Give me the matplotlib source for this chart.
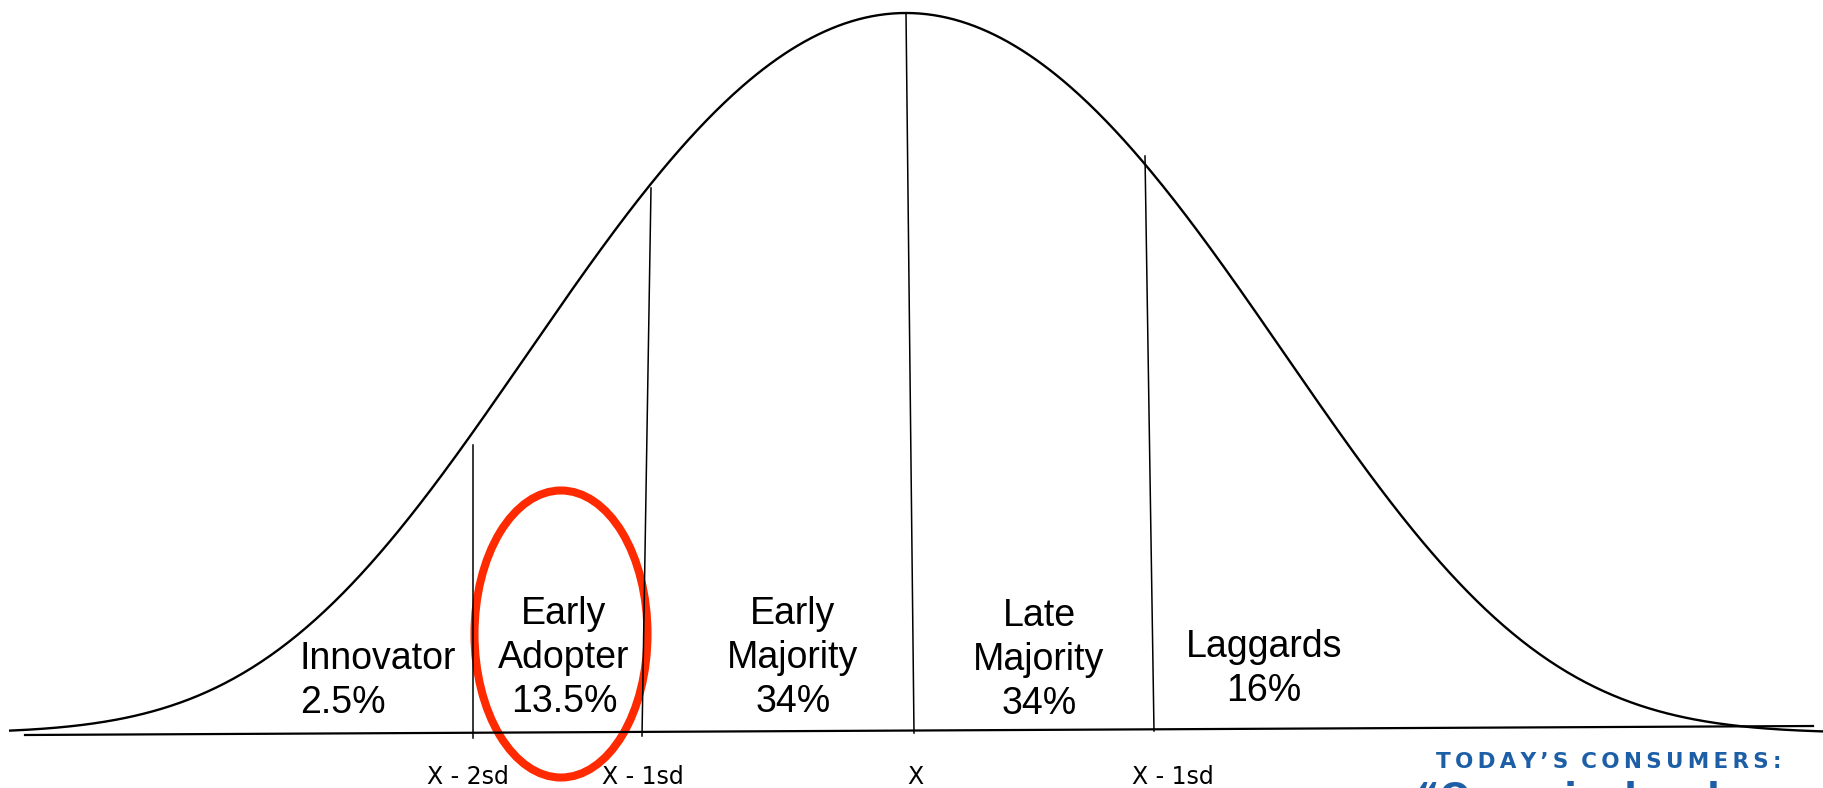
import numpy as np
import matplotlib
matplotlib.use("Agg")
import matplotlib.pyplot as plt
from matplotlib.patches import Ellipse

# adopter categories (innovation diffusion curve)
segments = ["Innovator", "Early\nAdopter", "Early\nMajority", "Late\nMajority", "Laggards"]
shares = ["2.5%", "13.5%", "34%", "34%", "16%"]

# boundaries between the groups, as drawn (pixel units, y measured upward)
bound_labels = ["X - 2sd", "X - 1sd", "X", "X - 1sd"]
bound_x_bottom = [473, 642, 914, 1154]
bound_x_top = [473, 651, 906, 1145]
bound_y_bottom = [50, 52, 55, 57]
bound_y_top = [343, 600, 775, 632]

# bell curve
peak_x = 906
peak_h = 720
curve_base = 55
sigma = 358      # gaussian part
quartic = 707    # extra fall-off in the tails

fig = plt.figure(figsize=(18.24, 7.88), dpi=100)
ax = fig.add_axes([0, 0, 1, 1])
ax.set_xlim(0, 1824)
ax.set_ylim(0, 788)
ax.axis("off")

x = np.linspace(9, 1824, 800)
d = x - peak_x
y = curve_base + peak_h * np.exp(-0.5 * (d / sigma) ** 2 - (d / quartic) ** 4)
ax.plot(x, y, color="black", lw=1.7, solid_capstyle="butt")

# horizontal axis line (slightly tilted in the original)
ax.plot([25, 1813], [53, 62], color="black", lw=1.6)

# group boundaries
for xb, xt, yb, yt in zip(bound_x_bottom, bound_x_top, bound_y_bottom, bound_y_top):
    ax.plot([xb, xt], [yb, yt], color="black", lw=1.1)

# bottom labels
label_x = [468, 643, 915, 1173]
for lx, lab in zip(label_x, bound_labels):
    ax.text(lx, 4, lab, ha="center", va="baseline", fontsize=17,
            family="DejaVu Sans", color="black")

# group names and shares
text_x = [300, 564, 793, 1039, 1264]
text_y = [75, 76, 76, 74, 87]
aligns = ["left", "center", "center", "center", "center"]
for tx, ty, ha, name, pct in zip(text_x, text_y, aligns, segments, shares):
    ax.text(tx, ty, name + "\n" + pct, ha=ha, va="baseline", fontsize=27,
            family="Liberation Sans", multialignment=ha,
            linespacing=1.28, color="black")

# red highlight around early adopters
ax.add_patch(Ellipse((561, 154), 173, 287, fill=False, edgecolor="#ff2a00", lw=5.8))

# cut-off logo text in the corner
logo = "\u2009".join("TODAY’S") + "\u2009\u2009\u2009" + "\u2009".join("CONSUMERS:")
ax.text(1436, 20, logo, ha="left", va="baseline", fontsize=15.5, fontweight="bold",
        family="DejaVu Sans", color="#1d5fa6")
ax.text(1416, 7, "“Organic, local or raw food?”", ha="left", va="top", fontsize=26,
        fontweight="bold", family="DejaVu Sans", color="#1d5fa6")

fig.savefig("out.png", dpi=100)
